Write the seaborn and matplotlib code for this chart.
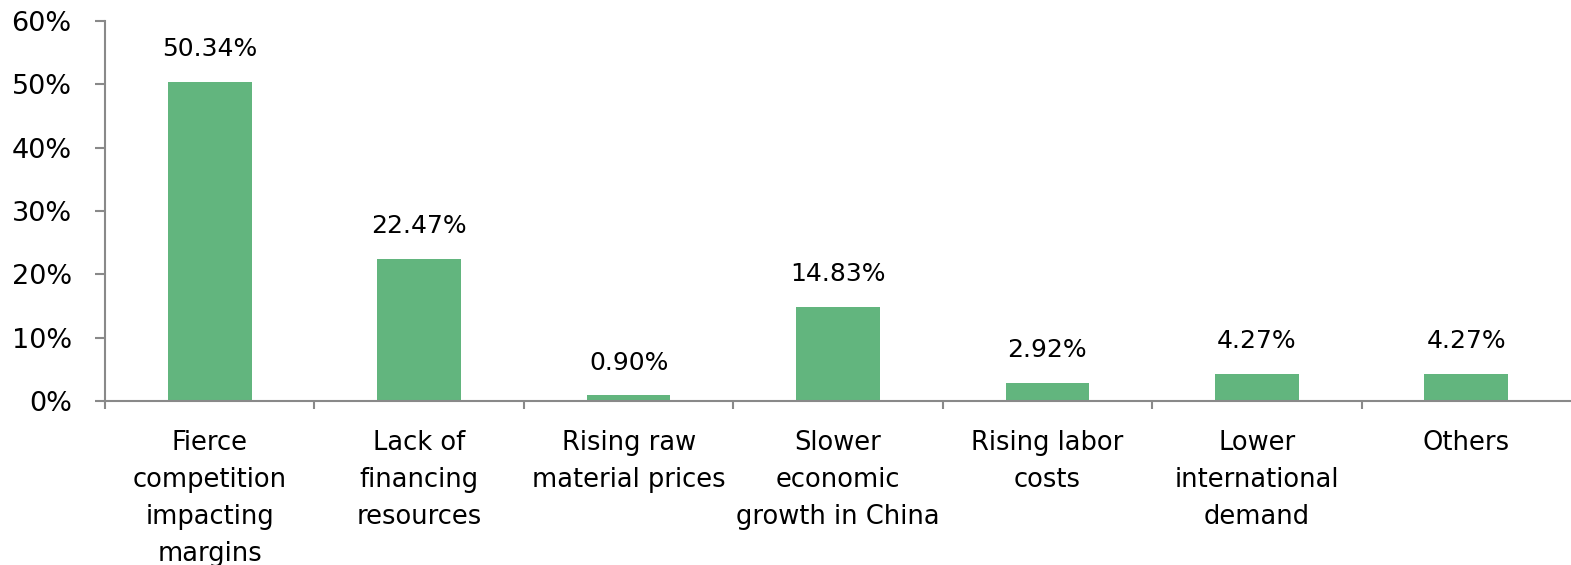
import matplotlib
matplotlib.use("Agg")
import matplotlib.pyplot as plt
import seaborn as sns
import pandas as pd
import numpy as np
from matplotlib.ticker import FixedLocator, FuncFormatter

categories = ["Fierce\ncompetition\nimpacting\nmargins", "Lack of\nfinancing\nresources",
              "Rising raw\nmaterial prices", "Slower\neconomic\ngrowth in China",
              "Rising labor\ncosts", "Lower\ninternational\ndemand", "Others"]
values = [50.34, 22.47, 0.90, 14.83, 2.92, 4.27, 4.27]
y_ticks = [0, 10, 20, 30, 40, 50, 60]

sns.set_theme(style="white")
plt.rcParams['font.family'] = ['DejaVu Sans']

df = pd.DataFrame({"cat": categories, "val": values})
fig = plt.figure(figsize=(15.71, 5.65), dpi=100)
ax = fig.add_axes([105/1571, 1-401/565, 1-105/1571, (401-21)/565])
sns.barplot(data=df, x="cat", y="val", color="#62B57E", width=0.4, saturation=1,
            edgecolor="none", ax=ax)
ax.set_xlim(-0.5, len(categories)-0.5)
ax.set_ylim(0, 60)
ax.set_yticks(y_ticks)
ax.yaxis.set_major_formatter(FuncFormatter(lambda v, p: f"{v:.0f}%"))
ax.set_xlabel("")
ax.set_ylabel("")
axc = "#898989"
for s in ["top", "right"]:
    ax.spines[s].set_visible(False)
for s in ["left", "bottom"]:
    ax.spines[s].set_color(axc)
    ax.spines[s].set_linewidth(1.5)
ax.tick_params(axis="y", which="major", direction="out", length=7, width=1.5,
               color=axc, labelsize=19.5, labelcolor="black", pad=17, left=True)
ax.tick_params(axis="x", which="major", length=0, labelsize=18.5, labelcolor="black", pad=21)
ax.xaxis.set_minor_locator(FixedLocator(np.arange(-0.5, len(categories)-0.5, 1.0)))
ax.tick_params(axis="x", which="minor", direction="out", length=6, width=1.5, color=axc, bottom=True)
for lbl in ax.get_xticklabels():
    lbl.set_linespacing(1.55)
    lbl.set_verticalalignment("top")
for i, v in enumerate(values):
    ax.annotate(f"{v:.2f}%", xy=(i, v), xytext=(0, 18.5), textcoords="offset points",
                ha="center", va="baseline", fontsize=18, color="black")
ax.grid(False)
fig.savefig("out.png", dpi=100)
